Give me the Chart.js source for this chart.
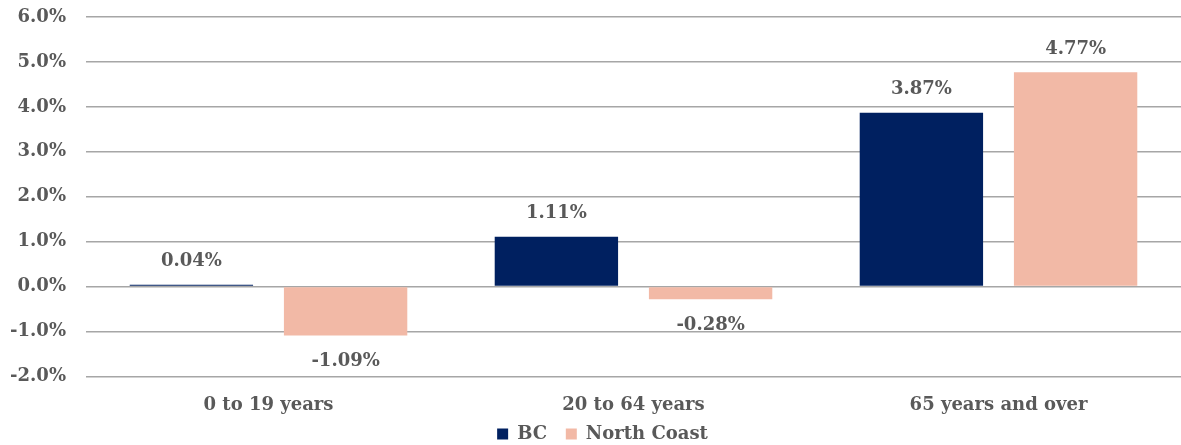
<!DOCTYPE html>
<html>
<head>
<meta charset="utf-8">
<script src="https://cdn.jsdelivr.net/npm/chart.js@4"></script>
<style>
  html, body { margin: 0; padding: 0; background: #fff; }
  #wrap { width: 1181px; height: 445px; }
</style>
</head>
<body>
<div id="wrap"><canvas id="barChart"></canvas></div>
<script>
// categories and series values (percent change)
const categories = ['0 to 19 years', '20 to 64 years', '65 years and over'];
const bcValues = [0.04, 1.11, 3.87];
const northCoastValues = [-1.09, -0.28, 4.77];

const textColor = '#595959';
const fontFamily = '"DejaVu Serif", serif';

// draws the value labels outside the bar ends
const valueLabels = {
    id: 'valueLabels',
    afterDatasetsDraw(chart) {
        const ctx = chart.ctx;
        ctx.save();
        ctx.font = 'bold 18px ' + fontFamily;
        ctx.fillStyle = textColor;
        ctx.textAlign = 'center';
        ctx.textBaseline = 'middle';
        chart.data.datasets.forEach((ds, i) => {
            chart.getDatasetMeta(i).data.forEach((bar, j) => {
                const v = ds.data[j];
                const y = v >= 0 ? bar.y - 23 : bar.y + 26;
                ctx.fillText(v.toFixed(2) + '%', bar.x, y);
            });
        });
        ctx.restore();
    }
};

// nudge the legend a bit lower and right, like the original
const legendShift = {
    id: 'legendShift',
    afterLayout(chart) {
        const lg = chart.legend;
        lg.top += 8; lg.bottom += 8;
        lg.left += 12; lg.right += 12;
    }
};

const barChart = new Chart(document.getElementById('barChart'), {
    type: 'bar',
    data: {
        labels: categories,
        datasets: [{
            label: 'BC',
            data: bcValues,
            backgroundColor: '#002060',
            barPercentage: 0.8,
            categoryPercentage: 0.845
        }, {
            label: 'North Coast',
            data: northCoastValues,
            backgroundColor: '#F2B9A6',
            barPercentage: 0.8,
            categoryPercentage: 0.845
        }]
    },
    options: {
        responsive: true,
        maintainAspectRatio: false,
        animation: false,
        layout: { padding: { top: 17, right: 0, left: 0, bottom: 0 } },
        plugins: {
            legend: {
                position: 'bottom',
                labels: {
                    boxWidth: 11,
                    boxHeight: 11,
                    padding: 0,
                    color: textColor,
                    font: { family: fontFamily, size: 18, weight: 'bold' },
                    generateLabels(chart) {
                        const items = Chart.defaults.plugins.legend.labels.generateLabels(chart);
                        items[0].text = items[0].text + '   ';
                        return items;
                    }
                }
            },
            tooltip: { enabled: false }
        },
        scales: {
            x: {
                grid: { display: false },
                border: { display: false },
                ticks: {
                    color: textColor,
                    padding: 10,
                    font: { family: fontFamily, size: 18, weight: 'bold' }
                },
                afterFit(scale) {
                    scale.height -= 9;
                }
            },
            y: {
                min: -2,
                max: 6,
                border: { display: false },
                grid: { color: '#a6a6a6', lineWidth: 1.5, drawTicks: false },
                ticks: {
                    stepSize: 1,
                    padding: 20,
                    color: textColor,
                    font: { family: fontFamily, size: 18, weight: 'bold' },
                    callback: v => v.toFixed(1) + '%'
                },
                afterFit(scale) {
                    scale.width = 86;
                    scale.paddingTop = 0;
                    scale.paddingBottom = 0;
                }
            }
        }
    },
    plugins: [valueLabels, legendShift]
});
</script>
</body>
</html>
